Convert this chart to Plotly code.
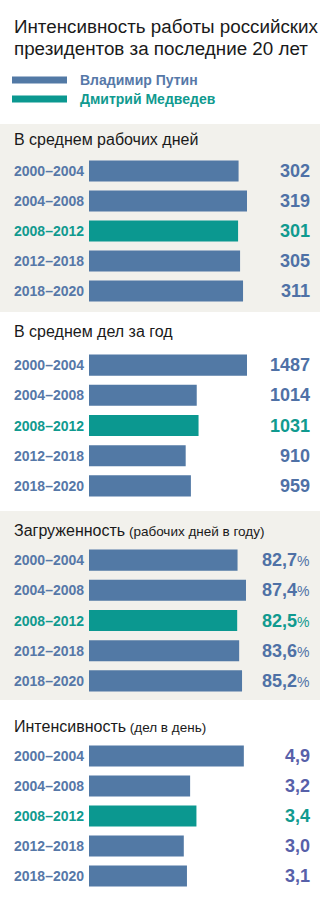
import plotly.graph_objects as go

# ---------------- data ----------------
periods = ["2000–2004", "2004–2008", "2008–2012", "2012–2018", "2018–2020"]
president = ["putin", "putin", "medvedev", "putin", "putin"]

work_days = [302, 319, 301, 305, 311]
cases_per_year = [1487, 1014, 1031, 910, 959]
workload_pct = [82.7, 87.4, 82.5, 83.6, 85.2]
cases_per_day = [4.9, 3.2, 3.4, 3.0, 3.1]

title_lines = ["Интенсивность работы российских", "президентов за последние 20 лет"]
legend_names = {"putin": "Владимир Путин", "medvedev": "Дмитрий Медведев"}

panel_titles_main = ["В среднем рабочих дней", "В среднем дел за год", "Загруженность", "Интенсивность"]
panel_titles_note = ["", "", " (рабочих дней в году)", " (дел в день)"]
panel_values = [work_days, cases_per_year, workload_pct, cases_per_day]
value_formats = ["int", "int", "pct", "dec"]

# ---------------- style ----------------
W, H = 320, 905
FONT = "Arial, 'Liberation Sans', sans-serif"
BAR_COL = {"putin": "#5279a5", "medvedev": "#0b9890"}
LABEL_COL = {"putin": "#5678a8", "medvedev": "#109a8f"}
VALUE_COL = ["#4f71a6", "#4f71a6", "#4f71a6", "#5760a9"]
GREY = "#f2f1ec"

bg_spans = [(124, 312, GREY), (312, 511, "#ffffff"), (511, 700, GREY), (700, 905, "#ffffff")]
title_y = [139, 331, 530, 726]
domains_px = [(156, 306), (350, 501), (545, 696), (741, 891)]
x_max = [319, 1487, 87.96, 5.0]
BAR_L, BAR_R = 89, 247


def py(p):
    return 1 - p / H


def px(p):
    return p / W


def fmt(v, kind):
    if kind == "int":
        return f"<b>{v:d}</b>"
    if kind == "dec":
        return "<b>" + f"{v:.1f}".replace(".", ",") + "</b>"
    return ("<b>" + f"{v:.1f}".replace(".", ",") + "</b>"
            + "<span style='font-size:14px'>%</span>")


fig = go.Figure()
shapes = []
annotations = []

for y0, y1, c in bg_spans:
    shapes.append(dict(type="rect", xref="paper", yref="paper", x0=0, x1=1,
                       y0=py(y1), y1=py(y0), fillcolor=c, line_width=0, layer="below"))

# title
for i, line in enumerate(title_lines):
    annotations.append(dict(text=line, xref="paper", yref="paper", x=px(12), y=py(27 + 21 * i),
                            xanchor="left", yanchor="middle", showarrow=False,
                            font=dict(family=FONT, size=18.8, color="#1a1a1a")))

# legend
for i, key in enumerate(["putin", "medvedev"]):
    cy = 80 + 19 * i
    shapes.append(dict(type="rect", xref="paper", yref="paper", x0=px(12), x1=px(67),
                       y0=py(cy + 3.5), y1=py(cy - 3.5), fillcolor=BAR_COL[key], line_width=0))
    annotations.append(dict(text="<b>" + legend_names[key] + "</b>", xref="paper", yref="paper",
                            x=px(78), y=py(cy), xanchor="left", yanchor="middle", showarrow=False,
                            font=dict(family=FONT, size=14, color=LABEL_COL[key])))

layout_axes = {}
for k in range(4):
    ax = "" if k == 0 else str(k + 1)
    vals = panel_values[k]
    fig.add_trace(go.Bar(
        y=periods, x=vals, orientation="h", xaxis="x" + ax, yaxis="y" + ax,
        marker=dict(color=[BAR_COL[p] for p in president], line_width=0),
        width=0.7, hoverinfo="skip", showlegend=False))
    d0, d1 = domains_px[k]
    layout_axes["xaxis" + ax] = dict(domain=[px(BAR_L), px(BAR_R)], range=[0, x_max[k]],
                                     visible=False, anchor="y" + ax, fixedrange=True)
    layout_axes["yaxis" + ax] = dict(domain=[py(d1), py(d0)], range=[4.5, -0.5], type="category",
                                     categoryorder="array", categoryarray=periods,
                                     visible=False, anchor="x" + ax, fixedrange=True)
    # panel title
    t = panel_titles_main[k]
    if panel_titles_note[k]:
        t += "<span style='font-size:13.5px'>" + panel_titles_note[k] + "</span>"
    annotations.append(dict(text=t, xref="paper", yref="paper", x=px(12), y=py(title_y[k]),
                            xanchor="left", yanchor="middle", showarrow=False,
                            font=dict(family=FONT, size=16, color="#1a1a1a")))
    for per, pres, v in zip(periods, president, vals):
        annotations.append(dict(text="<b>" + per + "</b>", xref="paper", yref="y" + ax,
                                x=px(12), y=per, xanchor="left", yanchor="middle", showarrow=False,
                                font=dict(family=FONT, size=14, color=LABEL_COL[pres])))
        vcol = LABEL_COL[pres] if pres == "medvedev" else VALUE_COL[k]
        annotations.append(dict(text=fmt(v, value_formats[k]), xref="paper", yref="y" + ax,
                                x=px(312), y=per, xanchor="right", yanchor="middle", showarrow=False,
                                font=dict(family=FONT, size=18, color=vcol)))

fig.update_layout(
    width=W, height=H, margin=dict(l=0, r=0, t=0, b=0),
    paper_bgcolor="#ffffff", plot_bgcolor="rgba(0,0,0,0)",
    shapes=shapes, annotations=annotations, bargap=0.3,
    **layout_axes)

fig.write_html("out.html", config={"displayModeBar": False})
